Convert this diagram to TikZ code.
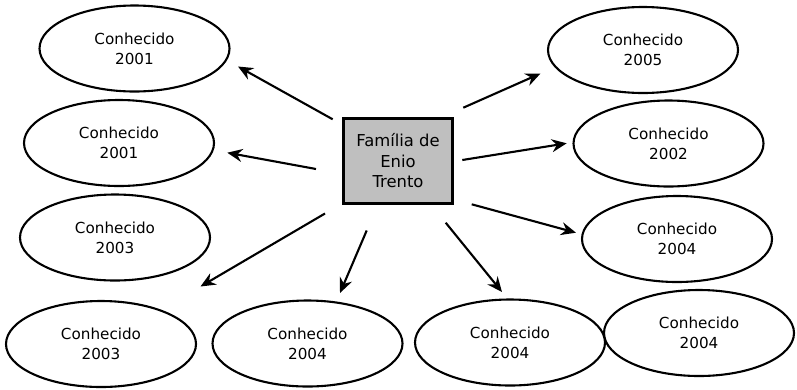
\documentclass[tikz,border=0pt]{standalone}
\usepackage{fontspec}
\setmainfont{DejaVu Sans}
\usetikzlibrary{shapes.geometric,arrows.meta}
\tikzset{
  known/.style={draw=black, line width=2.1pt, ellipse, minimum width=190pt, minimum height=86pt, inner sep=0pt, align=center, font=\fontsize{15.2}{20}\selectfont},
  family/.style={draw=black, line width=2.1pt, fill=black!25, minimum width=109pt, minimum height=85pt, inner sep=0pt, align=center, font=\fontsize{16.4}{20.5}\selectfont},
  link/.style={line width=2.1pt, -{Stealth[length=15pt, width=13pt, inset=5pt]}}
}
\begin{document}
\begin{tikzpicture}[x=1pt, y=-1pt]
\useasboundingbox (0,0) rectangle (797,389);
\node[family] (f) at (398,161) {Família de\\Enio\\Trento};
\node[known] (k1) at (134.5,48.5) {Conhecido\\2001};
\node[known] (k2) at (119,143) {Conhecido\\2001};
\node[known] (k3) at (115,237.5) {Conhecido\\2003};
\node[known] (k4) at (101,344) {Conhecido\\2003};
\node[known] (k5) at (307.5,343.5) {Conhecido\\2004};
\node[known] (k6) at (510,342.5) {Conhecido\\2004};
\node[known] (k7) at (699,333) {Conhecido\\2004};
\node[known] (k8) at (643,50) {Conhecido\\2005};
\node[known] (k9) at (668.5,143.5) {Conhecido\\2002};
\node[known] (k10) at (677,239) {Conhecido\\2004};
\coordinate (s1) at (332.7,119.3); \coordinate (e1) at (238,66.5);
\coordinate (s2) at (316,169); \coordinate (e2) at (227.3,152.7);
\coordinate (s3) at (325,213.5); \coordinate (e3) at (200.5,286.5);
\coordinate (s4) at (366.7,230.5); \coordinate (e4) at (340,293);
\coordinate (s5) at (445.7,222.7); \coordinate (e5) at (502,292);
\coordinate (s6) at (471.7,204.3); \coordinate (e6) at (576,232.7);
\coordinate (s7) at (462.3,160); \coordinate (e7) at (566.7,143.3);
\coordinate (s8) at (463.3,107.7); \coordinate (e8) at (540.5,73.5);
\draw[link] (s1) -- (e1);
\draw[link] (s2) -- (e2);
\draw[link] (s3) -- (e3);
\draw[link] (s4) -- (e4);
\draw[link] (s5) -- (e5);
\draw[link] (s6) -- (e6);
\draw[link] (s7) -- (e7);
\draw[link] (s8) -- (e8);
\end{tikzpicture}
\end{document}
